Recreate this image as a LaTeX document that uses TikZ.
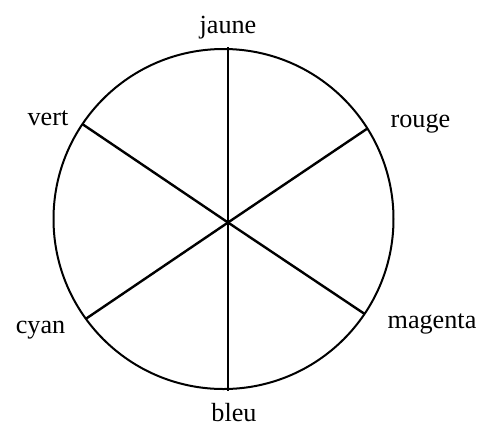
\documentclass[tikz,border=0pt]{standalone}
\usepackage{fontspec}
\setmainfont{Liberation Serif}
\usetikzlibrary{positioning}

\begin{document}
\begin{tikzpicture}[
  x=0.5pt, y=-0.5pt,
  colour/.style={anchor=base, inner sep=0pt, font=\fontsize{13.1pt}{15.5pt}\selectfont},
  rim/.style={draw, line width=1pt},
  spoke/.style={line width=1.2pt},
  axis/.style={line width=0.8pt}
]
  \useasboundingbox (0,0) rectangle (488,425);

  % wheel
  \coordinate (centre) at (223.5,219);
  \coordinate (hub) at (228,222.5);
  \draw[rim] (centre) circle [radius=85pt];

  % spoke ends on the rim
  \coordinate (top) at (228,47);
  \coordinate (bottom) at (228,391);
  \coordinate (ul) at (82.7,124.3);
  \coordinate (ur) at (367.7,128.3);
  \coordinate (ll) at (86,318.7);
  \coordinate (lr) at (364.3,313.7);

  \draw[axis] (top) -- (bottom);
  \draw[spoke] (ul) -- (hub) -- (lr);
  \draw[spoke] (ur) -- (hub) -- (ll);

  % labels
  \node[colour] (jaune) at (228,33) {jaune};
  \node[colour] (vert) at (48,125) {vert};
  \node[colour] (rouge) at (420.5,127.7) {rouge};
  \node[colour] (cyan) at (40.5,333.7) {cyan};
  \node[colour] (magenta) at (432,328.7) {magenta};
  \node[colour] (bleu) at (234,421.5) {bleu};
\end{tikzpicture}
\end{document}
